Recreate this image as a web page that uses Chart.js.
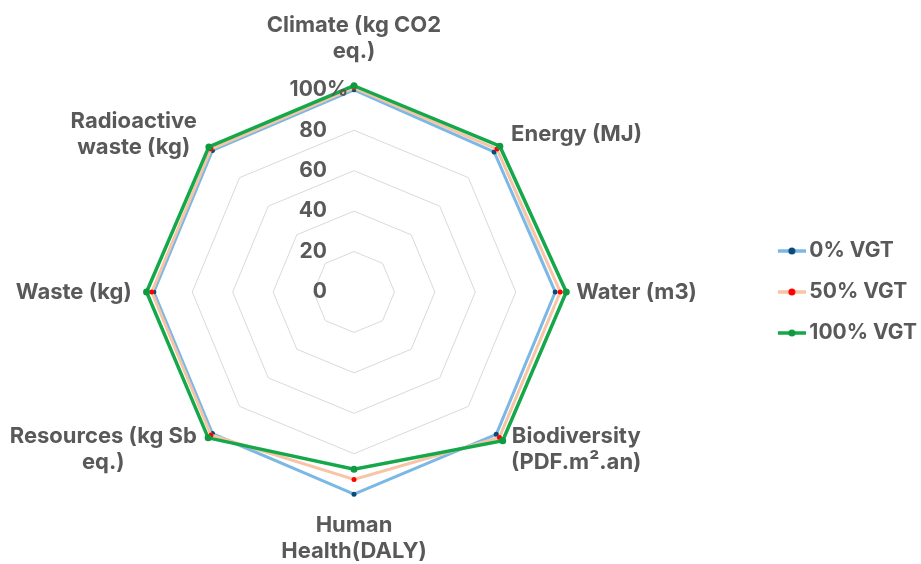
<!DOCTYPE html>
<html>
<head>
<meta charset="utf-8">
<script src="https://cdn.jsdelivr.net/npm/chart.js@4.4.1/dist/chart.umd.min.js"></script>
<style>
  html, body { margin: 0; padding: 0; background: #fff; overflow: hidden; }
  #wrap { width: 921px; height: 564px; margin-top: 5px; }
</style>
</head>
<body>
<div id="wrap"><canvas id="radarChart"></canvas></div>
<script>
const categories = [
  ['Climate (kg CO2', 'eq.)'],
  'Energy (MJ)',
  'Water (m3)',
  ['Biodiversity', '(PDF.m\u00b2.an)'],
  ['Human', 'Health(DALY)'],
  ['Resources (kg Sb', 'eq.)'],
  'Waste (kg)',
  ['Radioactive', 'waste (kg)']
];
const seriesNames = ['0% VGT', '50% VGT', '100% VGT'];
const vgt0 = [100, 98, 99.5, 99.5, 100, 99, 99, 99];
const vgt50 = [101, 100, 102, 101.7, 92.7, 100, 100, 100];
const vgt100 = [102, 102, 105, 104, 87.7, 102, 102.6, 101.5];
const tickValues = [0, 20, 40, 60, 80, 100];

const textColor = '#595959';
const fontFamily = 'Inter, "Open Sans", sans-serif';

// "line with a dot" marker for the legend, drawn right-heavy so it sits close to the text
function legendMarker(lineColor, dotColor) {
  const c = document.createElement('canvas');
  c.width = 44; c.height = 10;
  const g = c.getContext('2d');
  g.strokeStyle = lineColor;
  g.lineWidth = 3.5;
  g.beginPath(); g.moveTo(16, 5); g.lineTo(44, 5); g.stroke();
  g.fillStyle = dotColor;
  g.beginPath(); g.arc(30, 5, 3.5, 0, Math.PI * 2); g.fill();
  return c;
}

const markers = [
  legendMarker('#7ab8e6', '#0b4a78'),
  legendMarker('#f8c4a6', '#ff0000'),
  legendMarker('#14a84a', '#0f9a40')
];

// Excel-style labels: tick values left of the vertical axis,
// category names centred on the diagonal positions
const excelLabels = {
  id: 'excelLabels',
  afterLayout(chart) {
    // push the legend further right without moving the radar
    chart.legend.left += 46;
    chart.legend.right += 46;
  },
  afterDatasetsDraw(chart) {
    const scale = chart.scales.r;
    const ctx = chart.ctx;
    ctx.save();
    ctx.font = 'bold 21px ' + fontFamily;
    ctx.fillStyle = textColor;
    ctx.textBaseline = 'middle';
    tickValues.forEach(v => {
      const y = scale.yCenter - scale.getDistanceFromCenterForValue(v);
      const x = scale.xCenter - 27;
      ctx.textAlign = 'right';
      ctx.fillText(String(v), x, y);
      if (v === 100) {
        ctx.textAlign = 'left';
        ctx.fillText('%', x, y);
      }
    });

    ctx.font = 'bold 22px ' + fontFamily;
    const lineH = 26;
    const dist = scale.getDistanceFromCenterForValue(100) + 20;
    categories.forEach((label, i) => {
      const lines = Array.isArray(label) ? label : [label];
      const pos = scale.getPointPosition(i, dist);
      const cos = Math.cos(pos.angle), sin = Math.sin(pos.angle);
      const blockW = Math.max(...lines.map(l => ctx.measureText(l).width));
      const blockH = lines.length * lineH;
      let left;
      if (Math.abs(cos) < 0.1) left = pos.x - blockW / 2;
      else if (cos > 0) left = pos.x;
      else left = pos.x - blockW;
      let top;
      if (sin < -0.9) top = pos.y - 5 - blockH;
      else if (sin > 0.9) top = pos.y - 2;
      else top = pos.y - blockH / 2;
      ctx.textAlign = 'center';
      lines.forEach((l, k) => {
        ctx.fillText(l, left + blockW / 2, top + lineH * k + lineH / 2);
      });
    });
    ctx.restore();
  }
};

const ctx = document.getElementById('radarChart').getContext('2d');
new Chart(ctx, {
  type: 'radar',
  data: {
    labels: categories,
    datasets: [
      {
        label: seriesNames[0],
        data: vgt0,
        borderColor: '#7ab8e6',
        backgroundColor: 'transparent',
        borderWidth: 3,
        pointRadius: 2.5,
        pointBackgroundColor: '#0b4a78',
        pointBorderWidth: 0,
        order: 2
      },
      {
        label: seriesNames[1],
        data: vgt50,
        borderColor: '#f8c4a6',
        backgroundColor: 'transparent',
        borderWidth: 3,
        pointRadius: 2.5,
        pointBackgroundColor: '#ff0000',
        pointBorderWidth: 0,
        order: 1
      },
      {
        label: seriesNames[2],
        data: vgt100,
        borderColor: '#14a84a',
        backgroundColor: 'transparent',
        borderWidth: 3.5,
        pointRadius: 3.5,
        pointBackgroundColor: '#0f9a40',
        pointBorderWidth: 0,
        order: 0
      }
    ]
  },
  options: {
    responsive: true,
    maintainAspectRatio: false,
    animation: false,
    layout: { padding: { left: 6, right: 40, top: 10, bottom: 0 } },
    elements: { line: { tension: 0 } },
    plugins: {
      tooltip: { enabled: false },
      legend: {
        position: 'right',
        labels: {
          usePointStyle: true,
          pointStyleWidth: 30,
          padding: 20,
          color: textColor,
          font: { family: fontFamily, size: 21, weight: 'bold' },
          sort: (a, b) => a.datasetIndex - b.datasetIndex,
          generateLabels(chart) {
            const items = Chart.defaults.plugins.legend.labels.generateLabels(chart);
            items.forEach(it => { it.pointStyle = markers[it.datasetIndex]; });
            return items;
          }
        }
      }
    },
    scales: {
      r: {
        min: 0,
        max: 100,
        ticks: { stepSize: 20, display: false },
        angleLines: { display: false },
        grid: { color: '#d9d9d9', lineWidth: 1 },
        pointLabels: {
          // kept for sizing the radar; the visible labels are drawn by excelLabels
          color: 'rgba(0,0,0,0)',
          padding: 22,
          font: { family: fontFamily, size: 22, weight: 'bold' }
        }
      }
    }
  },
  plugins: [excelLabels]
});
</script>
</body>
</html>
